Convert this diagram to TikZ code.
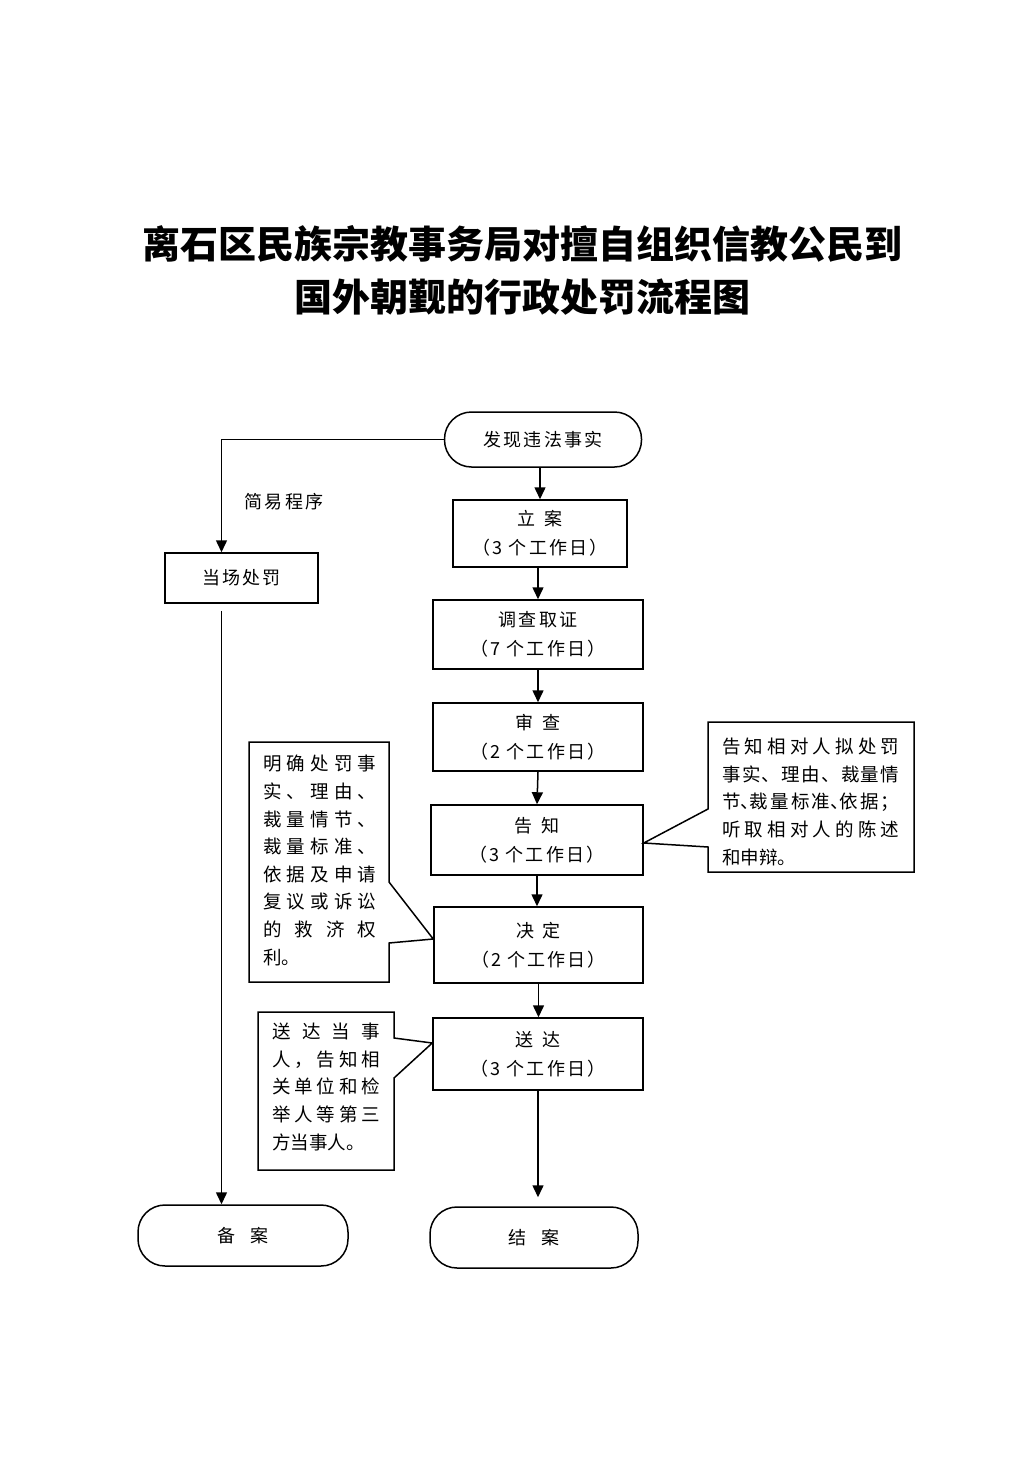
\documentclass[tikz,border=0pt]{standalone}
\usepackage{fontspec}
\setmainfont{Noto Sans CJK SC}
\newfontfamily\boxfont{Noto Sans CJK SC}[LetterSpace=12]
\usetikzlibrary{arrows.meta}
\newcommand\dist[2]{\makebox[#1][s]{\distA#2\relax}}
\def\distA#1{#1\distB}
\def\distB#1{\ifx#1\relax\else\hfill#1\expandafter\distB\fi}
\newcommand\hp[1]{\makebox[0.5em][l]{#1}}
\tikzset{
  lw/.style={line width=1.5pt},
  box/.style={draw, lw, inner sep=0pt, align=center, font=\boxfont\fontsize{18}{29}\selectfont},
  term/.style={box, rounded corners=27pt},
  arr/.style={lw, -{Triangle[length=12pt,width=11pt]}},
  note/.style={inner sep=0pt, anchor=north west, font=\fontsize{18.5}{27.6}\selectfont},
  callout/.style={draw, lw, line join=miter}
}
\begin{document}
\begin{tikzpicture}[x=1pt,y=-1pt]
\useasboundingbox (0,0) rectangle (1033,1461);
\node[font=\fontsize{38}{53}\selectfont\bfseries, align=center] (title) at (522,270)
  {离石区民族宗教事务局对擅自组织信教公民到\\国外朝觐的行政处罚流程图};

\node[term, minimum width=197pt, minimum height=55pt] (start) at (543,439.5) {发现违法事实};
\node[box, minimum width=174pt, minimum height=67pt] (la) at (540,533.5) {立\hspace{0.5em}案\\（3 个工作日）};
\node[box, minimum width=210pt, minimum height=69pt] (dc) at (538,634.5) {调查取证\\（7 个工作日）};
\node[box, minimum width=210pt, minimum height=68pt] (sc) at (538,737) {审\hspace{0.5em}查\\（2 个工作日）};
\node[box, minimum width=212pt, minimum height=70pt] (gz) at (537,840) {告\hspace{0.5em}知\\（3 个工作日）};
\node[box, minimum width=209pt, minimum height=76pt] (jd) at (538.5,945) {决\hspace{0.5em}定\\（2 个工作日）};
\node[box, minimum width=210pt, minimum height=72pt] (sd) at (538,1054) {送\hspace{0.5em}达\\（3 个工作日）};
\node[term, minimum width=208pt, minimum height=61pt] (jie) at (534,1237.5) {结\hspace{0.8em}案};

\node[box, minimum width=153pt, minimum height=50pt] (dcf) at (241.5,578) {当场处罚};
\node[term, minimum width=210pt, minimum height=61pt] (bei) at (243,1235.5) {备\hspace{0.8em}案};
\node[font=\fontsize{18}{20}\selectfont] (jy) at (284,502) {\dist{80pt}{简易程序}};

% main flow
\draw[arr] (start.south -| la.north) -- (la.north);
\draw[arr] (la.south -| dc.north) -- (dc.north);
\draw[arr] (dc.south) -- (sc.north);
\draw[arr] (sc.south) -- (gz.north);
\draw[arr] (gz.south) -- (gz.south |- jd.north);
\draw[arr] (jd.south) -- (jd.south |- sd.north);
\draw[arr, shorten >=9pt] (sd.south) -- (sd.south |- jie.north);

% simple procedure
\draw[arr] (start.west) -| ([xshift=-20pt]dcf.north);
\draw[arr] ([xshift=-20pt,yshift=-7pt]dcf.south) -- ([xshift=-20pt]dcf.south |- bei.north);

% callouts
\draw[callout] (249,742) -- (389,742) -- (389,882) -- ([yshift=6pt]jd.west) -- (389,943) -- (389,982) -- (249,982) -- cycle;
\node[note, text width=113pt] (n1) at (263,755) {%
\dist{113pt}{明确处罚事}\\
\dist{113pt}{实、理由、}\\
\dist{113pt}{裁量情节、}\\
\dist{113pt}{裁量标准、}\\
\dist{113pt}{依据及申请}\\
\dist{113pt}{复议或诉讼}\\
\dist{113pt}{的救济权}\\
利。};

\draw[callout] (708,722) -- (914,722) -- (914,872) -- (708,872) -- (708,847) -- ([yshift=-3pt]gz.east) -- (708,809) -- cycle;
\node[note, text width=177pt] (n2) at (722,738) {%
\dist{177pt}{告知相对人拟处罚}\\
\dist{177pt}{事实、理由、裁量情}\\
\makebox[177pt][s]{节\hp{、}裁\hfill 量\hfill 标\hfill 准\hp{、}依\hfill 据\hfill ；}\\
\dist{177pt}{听取相对人的陈述}\\
和申辩。};

\draw[callout] (258,1012) -- (394,1012) -- (394,1038) -- ([yshift=11pt]sd.west) -- (394,1078) -- (394,1170) -- (258,1170) -- cycle;
\node[note, text width=108pt] (n3) at (272,1023) {%
\dist{108pt}{送达当事}\\
\dist{108pt}{人，告知相}\\
\dist{108pt}{关单位和检}\\
\dist{108pt}{举人等第三}\\
方当事人。};
\end{tikzpicture}
\end{document}
